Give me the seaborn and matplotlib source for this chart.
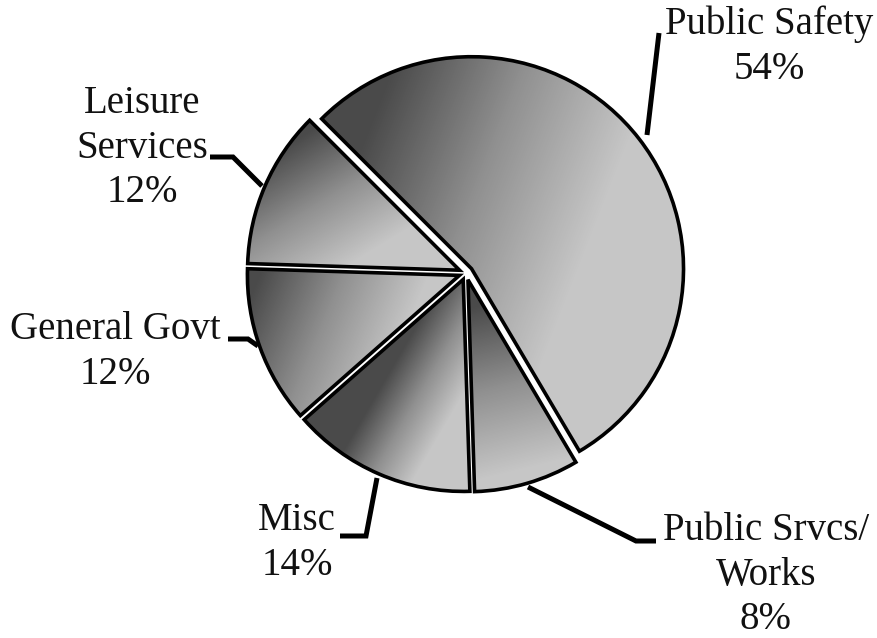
import numpy as np
import matplotlib
matplotlib.use("Agg")
import matplotlib.pyplot as plt
import seaborn as sns

# budget shares
labels = ["Public Safety", "Public Srvcs/\nWorks", "Misc", "General Govt", "Leisure\nServices"]
shares = [54, 8, 14, 12, 12]

sns.set_style("white")
plt.rcParams["font.family"] = ["Liberation Serif", "DejaVu Serif"]

W, H = 878, 638
fig = plt.figure(figsize=(W / 100, H / 100), dpi=100)
ax = fig.add_axes([0, 0, 1, 1])

cx, cy, R = 466, H - 273, 212
wedges, _ = ax.pie(shares, startangle=135, counterclock=False,
                   explode=[7] * 5, center=(cx, cy), radius=R,
                   wedgeprops=dict(facecolor="none", edgecolor="black", linewidth=2.6))
for w in wedges:
    w.set_zorder(3)
    w.set_joinstyle("miter")

cmap = sns.blend_palette(["#4a4a4a", "#909090", "#c6c6c6"], as_cmap=True)

# gradient direction per wedge (dark point -> light point, pixel coords)
grad = [((360, 150), (590, 240)),
        ((480, 305), (520, 470)),
        ((395, 362), (460, 400)),
        ((255, 285), (400, 345)),
        ((295, 140), (365, 255))]

xs = np.arange(W) + 0.5
ys = np.arange(H) + 0.5
X, Y = np.meshgrid(xs, ys)
for w, (p0, p1) in zip(wedges, grad):
    d = np.array(p1, float) - np.array(p0, float)
    t = ((X - p0[0]) * d[0] + (Y - p0[1]) * d[1]) / (d @ d)
    t = np.clip(t, 0, 1)
    im = ax.imshow(t, cmap=cmap, vmin=0, vmax=1, extent=(0, W, 0, H),
                   origin="upper", zorder=1, interpolation="bilinear")
    im.set_clip_path(w)
ax.set_xlim(0, W)
ax.set_ylim(0, H)
ax.set_aspect("equal")
ax.axis("off")

# leader lines (pixel coords)
leaders = [[(647, 135), (659, 33)],
           [(528, 487), (636, 541), (656, 541)],
           [(377, 478), (366, 536), (340, 536)],
           [(258, 346), (248, 339), (228, 339)],
           [(262, 186), (233, 157), (210, 157)]]
for pts in leaders:
    px = [p[0] for p in pts]
    py = [H - p[1] for p in pts]
    ax.plot(px, py, color="black", lw=3.6, solid_capstyle="butt",
            solid_joinstyle="miter", zorder=4)

label_pos = [(769, 47), (766, 575), (297, 543), (115, 352), (142, 148)]
for lab, s, (lx, ly) in zip(labels, shares, label_pos):
    ax.text(lx, H - ly, f"{lab}\n{s}%", ha="center", va="center",
            fontsize=28, linespacing=1.28, color="#111111")

fig.savefig("out.png", dpi=100)
